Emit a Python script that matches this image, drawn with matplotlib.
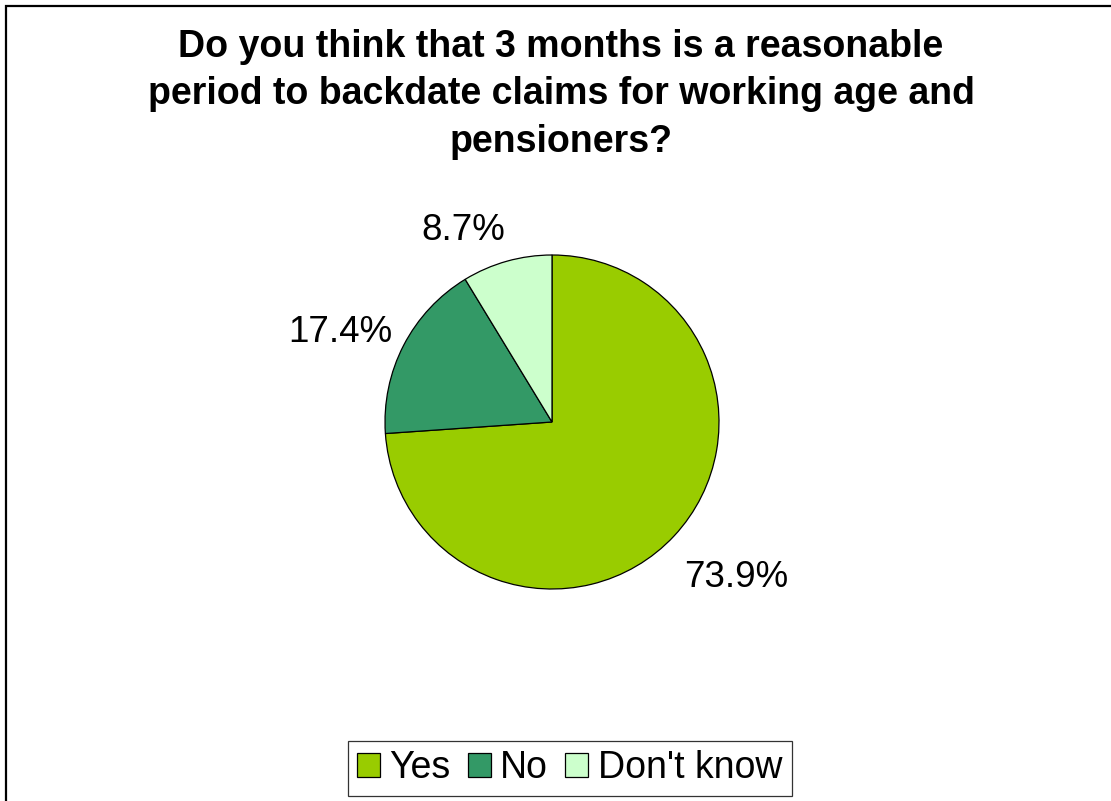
import numpy as np
import matplotlib
matplotlib.use("Agg")
import matplotlib.pyplot as plt
from matplotlib.patches import Rectangle

plt.rcParams['font.family'] = ['Liberation Sans', 'DejaVu Sans']

answers = ["Yes", "No", "Don't know"]
shares = [73.9, 17.4, 8.7]
colours = ["#99CC00", "#339966", "#CCFFCC"]
title = ("Do you think that 3 months is a reasonable\n"
         "period to backdate claims for working age and\n"
         "pensioners?")

W, H = 1111, 801
fig = plt.figure(figsize=(W / 100, H / 100), dpi=100)

# pie centre and radius in pixels
cx, cy, R = 552, 422, 167
ax = fig.add_axes([(cx - R) / W, (H - cy - R) / H, 2 * R / W, 2 * R / H])

labels = [f"{v:.1f}%" for v in shares]
wedges, texts = ax.pie(shares, colors=colours, labels=labels, startangle=90,
                       counterclock=False, labeldistance=1.12,
                       wedgeprops=dict(edgecolor="black", linewidth=0.9),
                       textprops=dict(fontsize=26.5))
# Excel-like label anchoring
texts[0].set_ha("left"); texts[0].set_va("top")
texts[1].set_ha("right"); texts[1].set_va("center")
texts[2].set_ha("right"); texts[2].set_va("bottom")
x0, y0 = texts[0].get_position()
texts[0].set_position((x0 - 0.03, y0 - 0.06))
x1, y1 = texts[1].get_position()
texts[1].set_position((x1 + 0.04, y1 + 0.02))
x2, y2 = texts[2].get_position()
texts[2].set_position((x2 + 0.02, y2 - 0.035))
ax.set_xlim(-1, 1)
ax.set_ylim(-1, 1)

fig.text(561 / W, 1 - 29 / H, title, ha="center", va="top",
         fontsize=27, fontweight="bold", linespacing=1.41)

leg = fig.legend(wedges, answers, loc="center", ncol=3,
                 bbox_to_anchor=(569.5 / W, 1 - 768.5 / H), fontsize=27,
                 frameon=True, fancybox=False, handlelength=0.62,
                 handleheight=0.62, handletextpad=0.25, columnspacing=0.45,
                 borderpad=0.25, borderaxespad=0)
leg.get_frame().set_edgecolor("black")
leg.get_frame().set_linewidth(0.9)

# outer chart border
fig.patches.append(Rectangle((5.5 / W, -0.1), 2, 1.1 - 6.5 / H,
                             transform=fig.transFigure, fill=False,
                             edgecolor="black", linewidth=1.6))

fig.savefig("out.png", dpi=100)
